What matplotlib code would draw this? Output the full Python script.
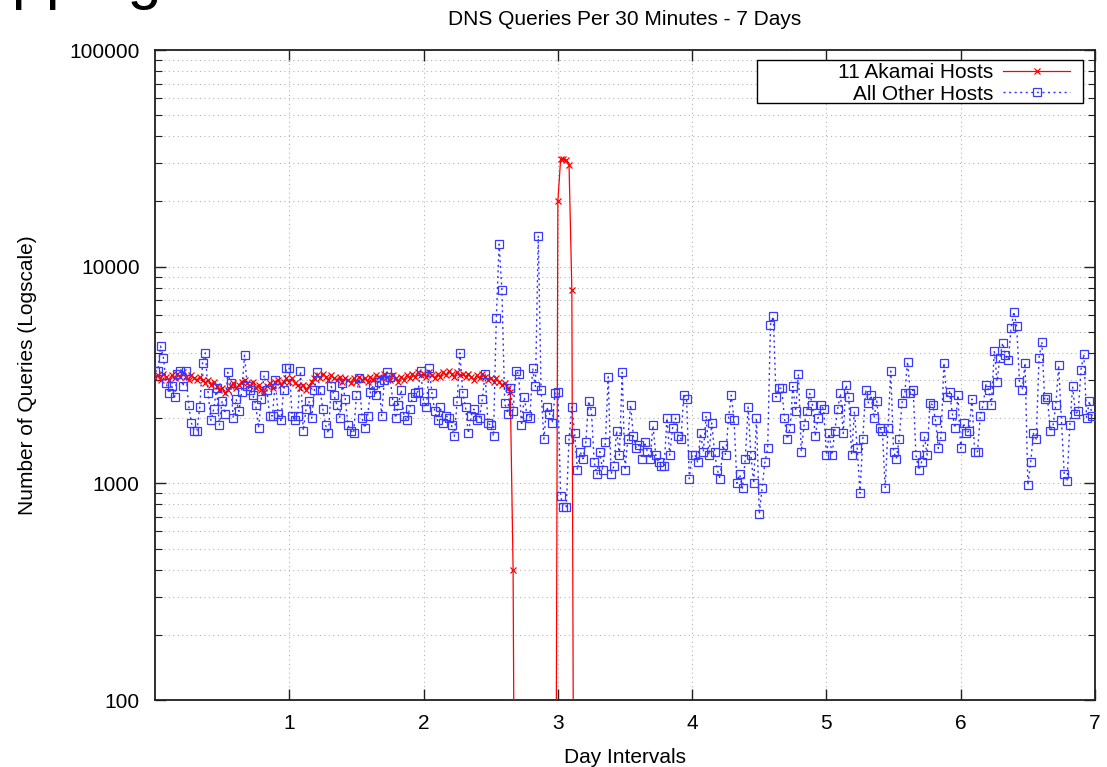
import numpy as np
import matplotlib.pyplot as plt
from matplotlib.patches import Rectangle
from matplotlib.ticker import FixedLocator, NullFormatter

plt.rcParams['font.family'] = ['Liberation Sans', 'DejaVu Sans']

title = "DNS Queries Per 30 Minutes - 7 Days"
xlabel = "Day Intervals"
ylabel = "Number of Queries (Logscale)"
labels = ["11 Akamai Hosts", "All Other Hosts"]
xticks = [1, 2, 3, 4, 5, 6, 7]
yticks = [100, 1000, 10000, 100000]
ytick_labels = ["100", "1000", "10000", "100000"]
per_day = 48  # one sample every 30 minutes

# 11 Akamai hosts (0 = nothing logged, drawn as 1 so the line drops off the log axis)
akamai = [
    3050, 3150, 3000, 3200, 3100, 3000, 3150, 3050, 3200, 3100, 3250, 3100, 3000, 3150, 3050, 3000,
    3100, 3000, 2900, 3000, 2850, 2950, 2800, 2700, 2750, 2600, 2700, 2800, 2900, 2750, 2850, 2950,
    3000, 2900, 2800, 2950, 2750, 2850, 2700, 2650, 2800, 2900, 2750, 2950, 3000, 2850, 2950, 3050,
    2950, 3050, 2900, 2850, 2750, 2850, 2700, 2800, 2950, 3050, 3150, 3050, 3200, 3100, 3000, 3150,
    3050, 3000, 3100, 2950, 3050, 3000, 2900, 3050, 2950, 3100, 3000, 3050, 2950, 3100, 3000, 3150,
    3100, 3050, 3200, 3100, 3000, 3150, 3050, 2950, 3100, 3000, 3150, 3050, 3200, 3100, 3250, 3150,
    3200, 3100, 3250, 3150, 3050, 3200, 3100, 3250, 3150, 3300, 3200, 3100, 3250, 3150, 3200, 3100,
    3200, 3100, 3000, 3150, 3050, 3200, 3100, 3000, 3050, 2950, 3050, 2950, 2850, 2900, 2750, 2650,
    400, 1, 1, 1, 1, 1, 1, 1, 1, 1, 1, 1, 1, 1, 1, 1,
    20000, 31500, 31500, 31000, 29500, 7800, 1,
]

# all other hosts, one row per day
others_day0 = [3300, 3300, 4300, 3800, 2900, 2600, 2800, 2500, 3200, 3300, 2800, 3300,
               2300, 1900, 1750, 1750, 2250, 3600, 4000, 2600, 1950, 2200, 2750, 1850,
               2400, 2100, 3250, 2900, 2000, 2450, 2150, 2650, 3900, 2800, 2700, 2550,
               2300, 1800, 2450, 3150, 2700, 2050, 2050, 3000, 2100, 1950, 2700, 3400]
others_day1 = [3400, 2050, 1950, 2050, 3300, 1750, 2200, 2400, 2000, 2700, 3250, 2700,
               2200, 1850, 1700, 2800, 2550, 2300, 2000, 2900, 2450, 1850, 1750, 1700,
               2550, 3050, 2000, 1800, 2050, 2650, 2850, 2550, 2950, 2050, 3000, 3250,
               3100, 2400, 2000, 2300, 2700, 2050, 1950, 2200, 2500, 2600, 2650, 3300]
others_day2 = [2400, 2250, 3400, 2600, 2150, 1950, 2250, 1900, 2050, 2000, 1850, 1650,
               2400, 4000, 2600, 2250, 1700, 2050, 2200, 1950, 2000, 2450, 3200, 1900,
               1850, 1650, 5800, 12700, 7800, 2350, 2100, 2750, 2150, 3300, 3200, 1850,
               2500, 2050, 2000, 3400, 2800, 13900, 2700, 1600, 2250, 2100, 1900, 2600]
others_day3 = [2650, 870, 780, 780, 1600, 2250, 1700, 1150, 1400, 1300, 1550, 2400,
               2150, 1250, 1100, 1400, 1150, 1550, 3100, 1100, 1200, 1750, 1350, 3250,
               1150, 1600, 2300, 1650, 1450, 1500, 1300, 1550, 1400, 1300, 1850, 1350,
               1250, 1200, 1200, 2000, 1350, 1800, 2000, 1650, 1600, 2550, 2450, 1050]
others_day4 = [1350, 1350, 1250, 1700, 1400, 2050, 1350, 1900, 1400, 1150, 1050, 1500,
               1350, 2000, 2550, 1950, 1000, 1100, 950, 1300, 2250, 1350, 1000, 2000,
               720, 950, 1250, 1450, 5400, 5900, 2500, 2750, 2750, 2000, 1600, 1800,
               2800, 2150, 3200, 1400, 1850, 2150, 2600, 2300, 1650, 2000, 2300, 2200]
others_day5 = [1350, 1700, 1350, 1750, 2200, 2600, 1700, 2850, 2500, 1350, 2150, 1450,
               900, 1600, 2700, 2350, 2550, 2000, 2400, 1800, 1750, 950, 1800, 3300,
               1400, 1300, 1600, 2350, 2600, 3650, 2600, 2700, 1350, 1150, 1250, 1650,
               1350, 2350, 2300, 1950, 1450, 1650, 3600, 2500, 2650, 2100, 1800, 2550]
others_day6 = [1450, 1900, 1700, 1750, 2450, 1400, 1400, 2050, 2300, 2850, 2700, 2300,
               4100, 2950, 3800, 4450, 3900, 3700, 5200, 6200, 5300, 2950, 2700, 3600,
               980, 1250, 1700, 1600, 3800, 4500, 2450, 2500, 1750, 1850, 2300, 3500,
               1950, 1100, 1020, 1850, 2800, 2100, 2150, 3350, 3950, 2000, 2400, 2050]
others = (others_day0 + others_day1 + others_day2 + others_day3 +
          others_day4 + others_day5 + others_day6)

x_ak = np.arange(len(akamai)) / per_day
x_ot = np.arange(len(others)) / per_day

fig = plt.figure(figsize=(11.07, 7.67), dpi=100)
ax = fig.add_axes([155 / 1107, 1 - 700 / 767, 940 / 1107, 650 / 767])

ax.plot(x_ak, akamai, color='#ff0000', lw=0.9, marker='x', ms=5, mew=0.9,
        label=labels[0], zorder=3)
ax.plot(x_ot, others, color='#3030ff', lw=1.0, ls=(0, (1.5, 2.5)), marker='s', ms=6,
        mfc='none', mec='#3a3aff', mew=0.9, label=labels[1], zorder=4)

ax.set_yscale('log')
ax.set_xlim(0, 7)
ax.set_ylim(100, 100000)
ax.set_xticks(xticks)
ax.set_xticklabels([str(t) for t in xticks])
ax.yaxis.set_major_locator(FixedLocator(yticks))
ax.set_yticklabels(ytick_labels)
minors = [m * d for d in [100, 1000, 10000] for m in range(2, 10)]
ax.yaxis.set_minor_locator(FixedLocator(minors))
ax.yaxis.set_minor_formatter(NullFormatter())

ax.tick_params(which='both', direction='in', top=True, right=True, labelsize=15, color='#202020')
ax.tick_params(which='major', length=8, width=1.0)
ax.tick_params(axis='y', which='major', pad=11)
ax.tick_params(axis='x', which='major', pad=10)
ax.tick_params(which='minor', length=5, width=0.8)
for s in ax.spines.values():
    s.set_linewidth(1.3)
    s.set_color('#202020')

ax.grid(True, which='major', color='#b4b4b4', ls=(0, (1, 3)), lw=0.8)
ax.grid(True, which='minor', axis='y', color='#b4b4b4', ls=(0, (1, 3)), lw=0.8)

ax.set_title(title, fontsize=15, pad=18)
ax.set_xlabel(xlabel, fontsize=15, labelpad=11)
ax.set_ylabel(ylabel, fontsize=15, labelpad=23)

# gnuplot style key: white box, text right aligned, sample after the text
ax.add_patch(Rectangle((757 / 1107, 1 - 103 / 767), 326 / 1107, 43 / 767,
                       transform=fig.transFigure, facecolor='white', edgecolor='black',
                       lw=1.0, zorder=6))
leg = ax.legend(loc='upper right', bbox_to_anchor=(1070 / 1107, 1 - 63 / 767),
                bbox_transform=fig.transFigure, markerfirst=False, frameon=False,
                fontsize=15, handlelength=3.2, handletextpad=0.5, borderpad=0.0,
                labelspacing=0.12, borderaxespad=0.0)
leg.set_zorder(7)

# slide heading cut off at the top of the screenshot
fig.text(-73 / 1107, 1 + 3 / 767, "Mapping", fontsize=44, ha='left', va='baseline')

fig.savefig('out.png', dpi=100)
